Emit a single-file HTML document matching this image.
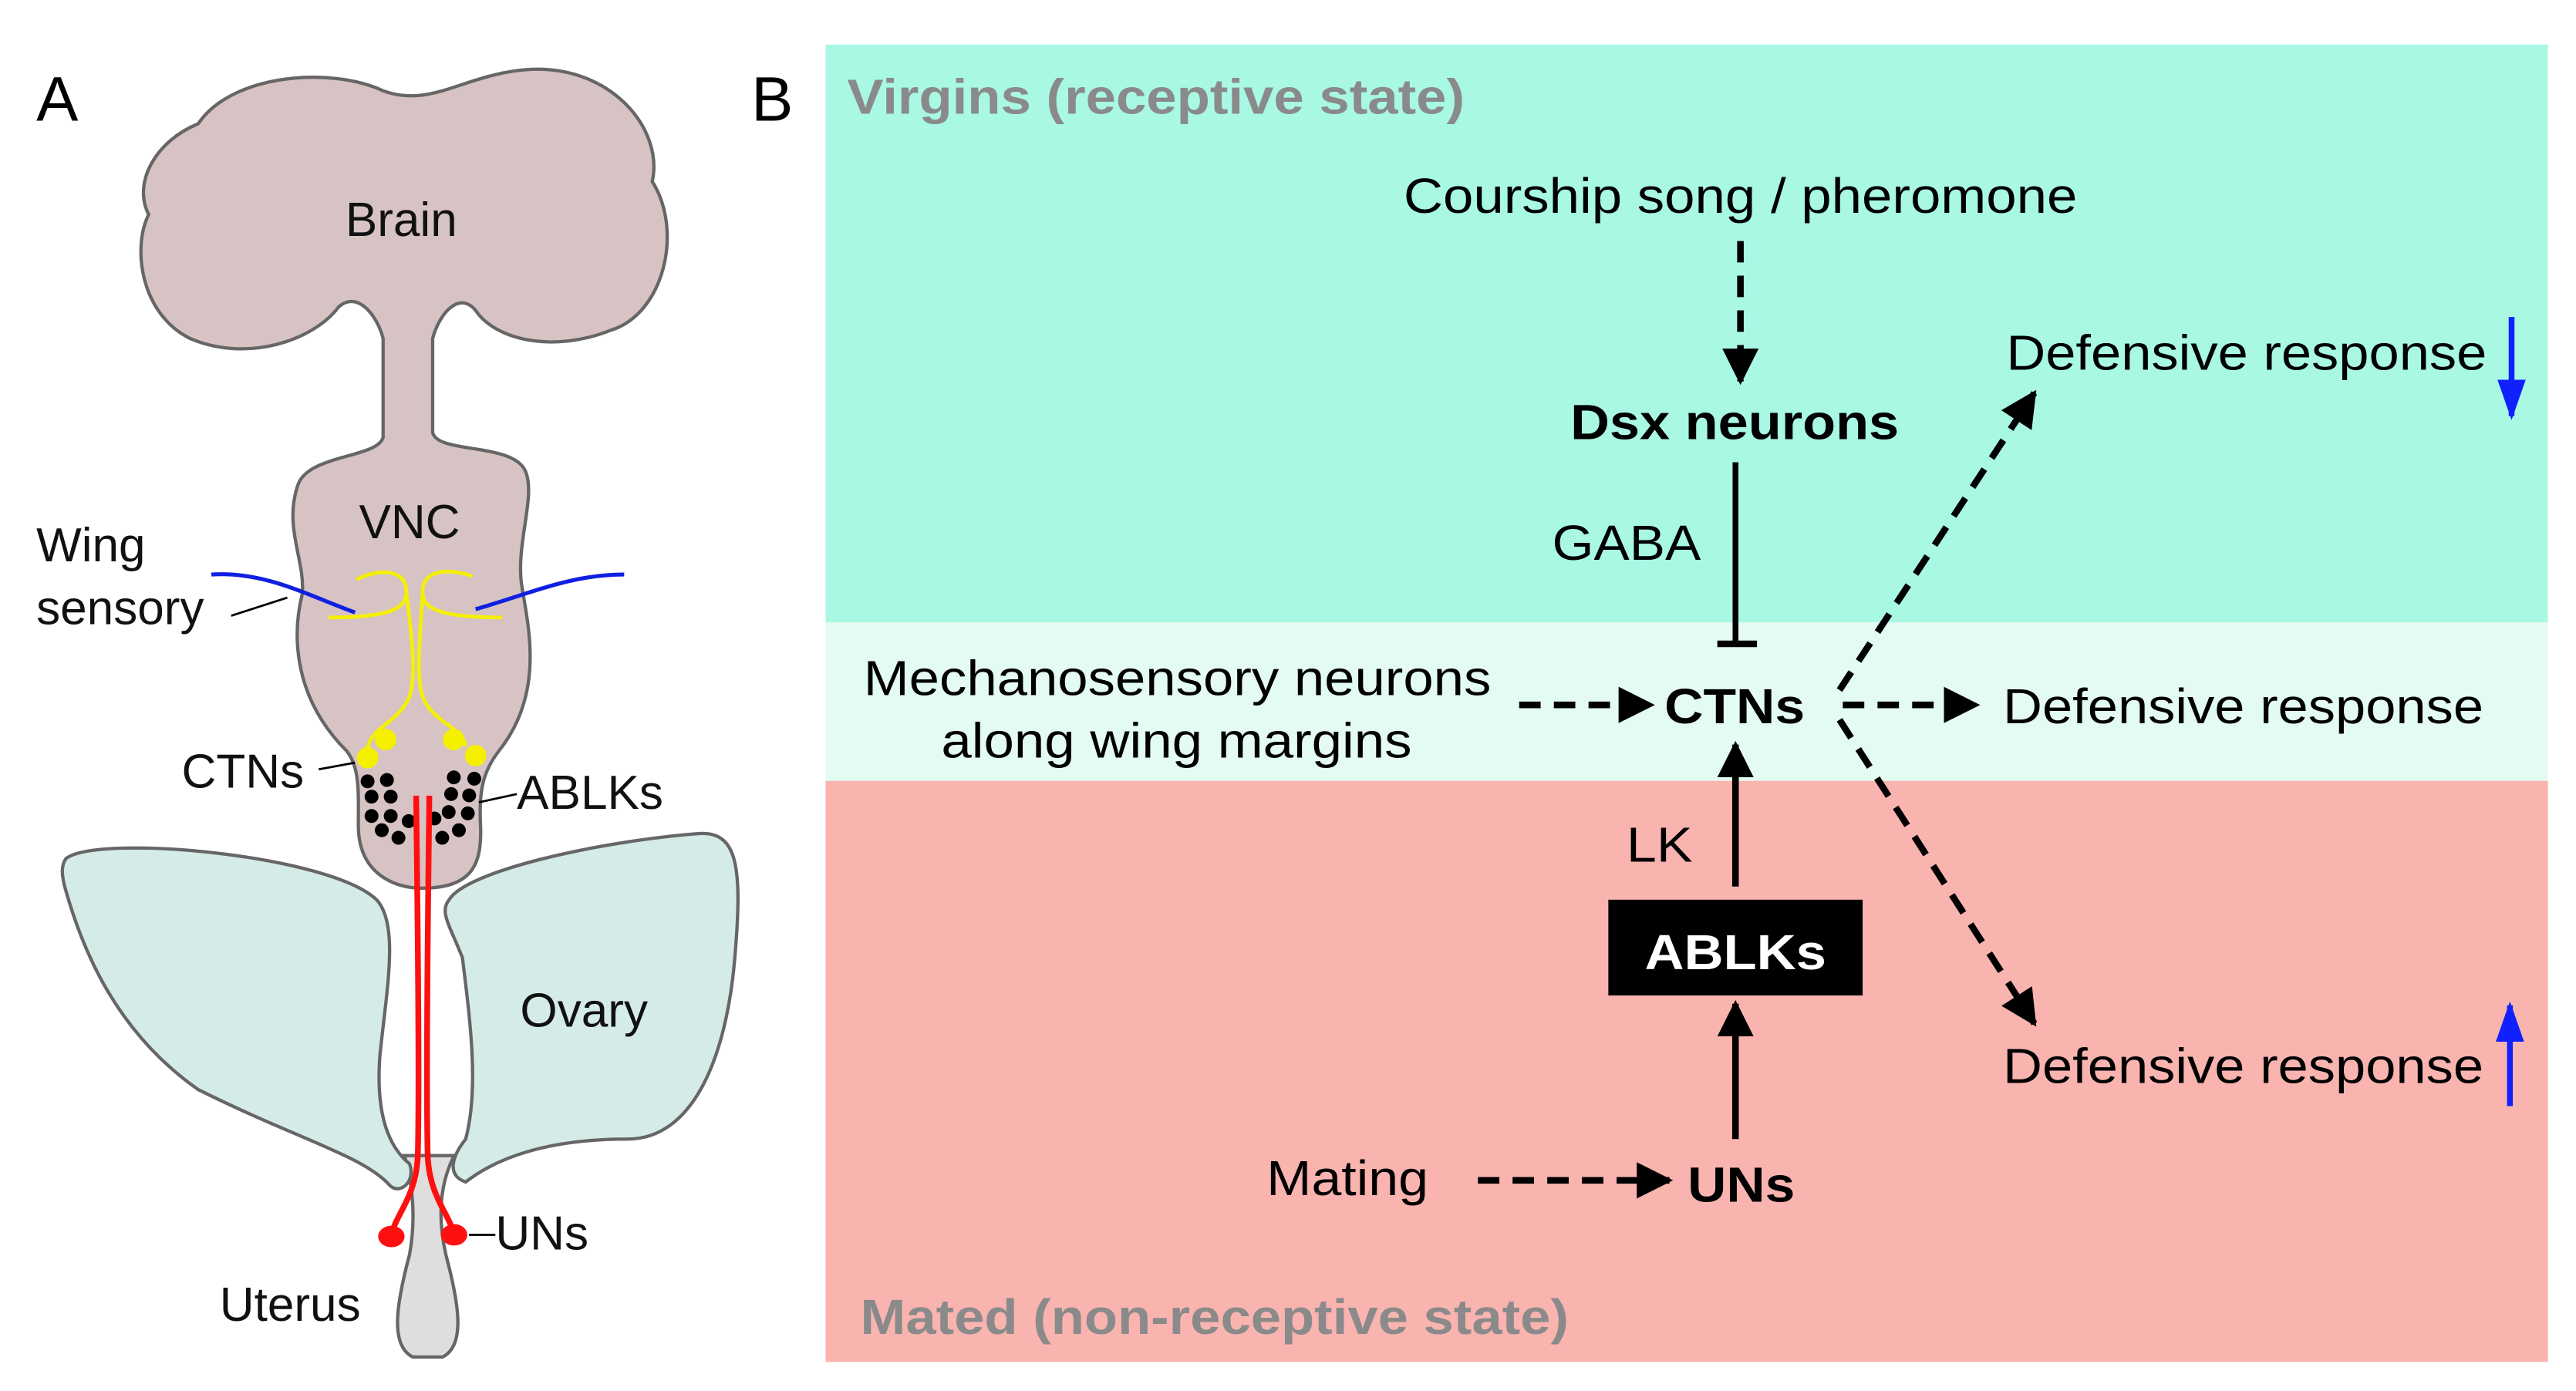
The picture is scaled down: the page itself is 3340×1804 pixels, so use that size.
<!DOCTYPE html>
<html><head><meta charset="utf-8"><style>html,body{margin:0;padding:0;background:#fff}svg{display:block}</style></head>
<body>
<svg width="3340" height="1804" viewBox="0 0 1560 842.6" xmlns="http://www.w3.org/2000/svg" font-family="Liberation Sans, Arial, sans-serif">
<defs>
<marker id="ah" viewBox="0 0 10 10" refX="9" refY="5" markerWidth="5.5" markerHeight="5.5" orient="auto" markerUnits="strokeWidth"><path d="M0,0 L10,5 L0,10 Z" fill="#000"/></marker>
<marker id="bh" viewBox="0 0 10 10" refX="9" refY="5" markerWidth="7" markerHeight="7" orient="auto" markerUnits="strokeWidth"><path d="M0,1.5 L10,5 L0,8.5 Z" fill="#1020ff"/></marker>
</defs>
<rect width="1560" height="842.6" fill="#fff"/>
<!-- Panel B backgrounds -->
<rect x="500" y="27" width="1043" height="350" fill="#a8f8e4"/>
<rect x="500" y="377" width="1043" height="96" fill="#e4fbf1"/>
<rect x="500" y="473" width="1043" height="352" fill="#f9b4b0"/>

<text x="22" y="73" font-size="38">A</text>
<text x="455" y="73" font-size="38">B</text>

<!-- Panel A -->
<g stroke="#666" stroke-width="2">
<path d="M245,700 C250,718 252,738 248,760 C240,790 236,815 250,822 L268,822 C282,815 278,790 270,760 C265,738 266,718 275,700 Z" fill="#dedede"/>
<path d="M40,520 C60,505 200,518 228,545 C242,560 234,600 230,640 C228,668 232,692 248,705 C252,716 242,724 236,718 C220,700 180,690 120,660 C70,625 50,575 40,540 C37,530 37,524 40,520 Z" fill="#d5ebe8"/>
<path d="M272,545 C282,528 360,510 422,505 C446,503 450,522 445,580 C440,640 420,690 380,690 C330,690 300,702 282,716 C270,712 274,700 282,690 C290,660 285,620 280,580 C272,560 266,552 272,545 Z" fill="#d5ebe8"/>
<path d="M120,75 C140,45 200,40 232,55 C262,66 282,44 322,42 C370,40 402,78 395,110 C414,140 402,190 370,200 C335,214 300,206 288,188 C278,176 266,190 262,205 L262,262 C265,275 310,268 318,285 C325,300 312,330 316,355 C320,380 330,420 302,455 C292,468 290,480 291,500 C292,525 285,538 255,538 C240,538 217,530 217,500 C217,480 218,465 210,455 C175,420 178,380 183,360 C185,340 172,320 180,295 C185,275 228,278 232,265 L232,205 C228,190 216,176 205,186 C190,206 150,220 115,205 C85,190 80,150 90,130 C80,110 95,85 120,75 Z" fill="#d7c3c3"/>
</g>
<g fill="none" stroke="#1020e0" stroke-width="2.4">
<path d="M128,348 C160,346 185,360 215,371"/>
<path d="M288,369 C320,360 345,348 378,348"/>
</g>
<g fill="none" stroke="#f5f000" stroke-width="2.2">
<path d="M216,351 C230,344 246,345 246,358 C247,370 232,374 199,374"/>
<path d="M246,358 C250,390 252,410 248,422 C240,440 222,440 222,458"/>
<path d="M286,349 C272,344 256,345 256,358 C255,370 270,374 304,374"/>
<path d="M256,358 C254,390 252,410 256,422 C262,438 280,440 282,452"/>
</g>
<g fill="#f5f000">
<circle cx="233.5" cy="448" r="6.5"/><circle cx="222.6" cy="459" r="6.5"/>
<circle cx="274.8" cy="448" r="6.5"/><circle cx="288" cy="457.7" r="6.5"/>
</g>
<g fill="#000">
<circle cx="222.6" cy="473.3" r="4.2"/><circle cx="234.3" cy="472.5" r="4.2"/><circle cx="225" cy="482.6" r="4.2"/><circle cx="236.6" cy="482.6" r="4.2"/><circle cx="225" cy="494.3" r="4.2"/><circle cx="236.6" cy="494.3" r="4.2"/><circle cx="247.5" cy="497.4" r="4.2"/><circle cx="231.2" cy="502.9" r="4.2"/><circle cx="241.3" cy="507.5" r="4.2"/>
<circle cx="274.8" cy="470.9" r="4.2"/><circle cx="287.2" cy="471.7" r="4.2"/><circle cx="273.2" cy="481" r="4.2"/><circle cx="284.1" cy="481.8" r="4.2"/><circle cx="271.7" cy="491.9" r="4.2"/><circle cx="283.3" cy="492.7" r="4.2"/><circle cx="263.1" cy="495.8" r="4.2"/><circle cx="277.9" cy="502.9" r="4.2"/><circle cx="267.8" cy="507.5" r="4.2"/>
</g>
<g fill="none" stroke="#ff1010" stroke-width="3.5">
<path d="M252,482 C253,560 254,660 253,700 C252,725 240,735 237,748"/>
<path d="M260,482 C259,560 258,660 259,700 C260,725 272,735 275,748"/>
</g>
<ellipse cx="237" cy="749" rx="8" ry="6.5" fill="#ff1010"/>
<ellipse cx="275" cy="748" rx="8" ry="6.5" fill="#ff1010"/>
<g stroke="#000" stroke-width="1.3">
<line x1="140" y1="373" x2="174" y2="362"/>
<line x1="193" y1="466" x2="215" y2="462"/>
<line x1="290" y1="486" x2="313" y2="481"/>
<line x1="284" y1="748" x2="300" y2="748"/>
</g>
<g font-size="29" fill="#111">
<text x="243" y="143" text-anchor="middle">Brain</text>
<text x="248" y="326" text-anchor="middle">VNC</text>
<text x="22" y="340">Wing</text>
<text x="22" y="378">sensory</text>
<text x="110" y="477">CTNs</text>
<text x="313" y="490">ABLKs</text>
<text x="315" y="622">Ovary</text>
<text x="300" y="757">UNs</text>
<text x="133" y="800">Uterus</text>
</g>

<!-- Panel B text -->
<g font-weight="bold" fill="#8a8a8a" font-size="30">
<text x="513" y="69" textLength="374" lengthAdjust="spacingAndGlyphs">Virgins (receptive state)</text>
<text x="521" y="808" textLength="429" lengthAdjust="spacingAndGlyphs">Mated (non-receptive state)</text>
</g>
<g font-size="30" fill="#000">
<text x="850" y="129" textLength="408" lengthAdjust="spacingAndGlyphs">Courship song / pheromone</text>
<text x="940" y="339" textLength="90" lengthAdjust="spacingAndGlyphs">GABA</text>
<text x="523" y="421" textLength="380" lengthAdjust="spacingAndGlyphs">Mechanosensory neurons</text>
<text x="570" y="459" textLength="285" lengthAdjust="spacingAndGlyphs">along wing margins</text>
<text x="1215" y="224" textLength="291" lengthAdjust="spacingAndGlyphs">Defensive response</text>
<text x="1213" y="438" textLength="291" lengthAdjust="spacingAndGlyphs">Defensive response</text>
<text x="1213" y="656" textLength="291" lengthAdjust="spacingAndGlyphs">Defensive response</text>
<text x="985" y="522" textLength="40" lengthAdjust="spacingAndGlyphs">LK</text>
<text x="767" y="724" textLength="98" lengthAdjust="spacingAndGlyphs">Mating</text>
</g>
<g font-size="30" font-weight="bold" fill="#000">
<text x="951" y="266" textLength="199" lengthAdjust="spacingAndGlyphs">Dsx neurons</text>
<text x="1008" y="438" textLength="85" lengthAdjust="spacingAndGlyphs">CTNs</text>
<text x="1022" y="728" textLength="65" lengthAdjust="spacingAndGlyphs">UNs</text>
</g>
<rect x="974" y="545" width="154" height="58" fill="#000"/>
<text x="1051" y="587" font-size="30" font-weight="bold" fill="#fff" text-anchor="middle" textLength="110" lengthAdjust="spacingAndGlyphs">ABLKs</text>

<!-- connectors -->
<g stroke="#000" stroke-width="4" fill="none">
<line x1="1054" y1="146" x2="1054" y2="231" stroke-dasharray="13,8" marker-end="url(#ah)"/>
<line x1="1051" y1="280" x2="1051" y2="390" stroke-width="3.5"/>
<line x1="1040" y1="390" x2="1064" y2="390" stroke-width="4"/>
<line x1="920" y1="427" x2="1000" y2="427" stroke-dasharray="13,8" marker-end="url(#ah)"/>
<line x1="1116" y1="427" x2="1197" y2="427" stroke-dasharray="13,8" marker-end="url(#ah)"/>
<line x1="1114" y1="418" x2="1232" y2="238" stroke-dasharray="13,8" marker-end="url(#ah)"/>
<line x1="1114" y1="436" x2="1232" y2="620" stroke-dasharray="13,8" marker-end="url(#ah)"/>
<line x1="1051" y1="537" x2="1051" y2="451" marker-end="url(#ah)"/>
<line x1="1051" y1="690" x2="1051" y2="608" marker-end="url(#ah)"/>
<line x1="895" y1="715" x2="1011" y2="715" stroke-dasharray="13,8" marker-end="url(#ah)"/>
</g>
<g stroke="#1020ff" stroke-width="3.5" fill="none">
<line x1="1521" y1="192" x2="1521" y2="252" marker-end="url(#bh)"/>
<line x1="1520" y1="670" x2="1520" y2="609" marker-end="url(#bh)"/>
</g>
</svg>
</body></html>
